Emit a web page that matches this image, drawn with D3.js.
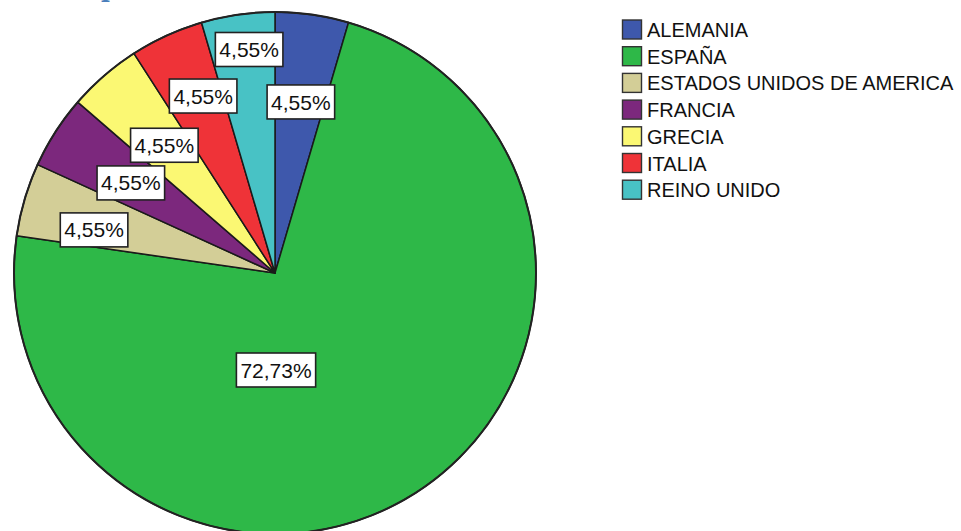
<!DOCTYPE html>
<html>
<head>
<meta charset="utf-8">
<script src="https://cdn.jsdelivr.net/npm/d3@7"></script>
<style>
  html, body { margin: 0; padding: 0; background: #fff; overflow: hidden; }
  svg { display: block; }
</style>
</head>
<body>
<svg id="chart" width="961" height="531"></svg>
<script>
"use strict";

// datos (frecuencias, total 22)
var categories = ["ALEMANIA", "ESPAÑA", "ESTADOS UNIDOS DE AMERICA", "FRANCIA", "GRECIA", "ITALIA", "REINO UNIDO"];
var counts = [1, 16, 1, 1, 1, 1, 1];
var colors = ["#3e58ac", "#2eb848", "#d3ce97", "#7c287d", "#fbf873", "#ef3338", "#48c2c5"];

// posicion de las etiquetas (angulo en grados desde las 12, radio en px)
var labelAngle = [8.6, 179.4, 283.4, 302, 319.1, 337.9, 353.4];
var labelRadius = [173, 97, 186, 170, 169, 191, 225];

var svg = d3.select("#chart");
var cx = 275, cy = 273, radius = 261;

// trozo del titulo cortado arriba
svg.append("text")
    .attr("x", 101)
    .attr("y", -3)
    .attr("font-family", "DejaVu Serif")
    .attr("font-weight", "bold")
    .attr("font-size", 24)
    .attr("fill", "#4a7ebb")
    .text("p");

var total = d3.sum(counts);
var pie = d3.pie().sort(null).value(function (d) { return d; });
var arc = d3.arc().innerRadius(0).outerRadius(radius);
var arcs = pie(counts);

var g = svg.append("g").attr("transform", "translate(" + cx + "," + cy + ")");

g.selectAll("path.slice")
    .data(arcs)
    .enter()
    .append("path")
    .attr("class", "slice")
    .attr("d", arc)
    .attr("fill", function (d, i) { return colors[i]; })
    .attr("stroke", "#1a1a1a")
    .attr("stroke-width", 1.5)
    .attr("stroke-linejoin", "round");

// borde exterior
g.append("circle")
    .attr("r", radius)
    .attr("fill", "none")
    .attr("stroke", "#222")
    .attr("stroke-width", 2);

var fmt = d3.format(".2f");

var labels = g.selectAll("g.lbl")
    .data(arcs)
    .enter()
    .append("g")
    .attr("class", "lbl")
    .attr("transform", function (d, i) {
        var a = labelAngle[i] * Math.PI / 180;
        var r = labelRadius[i];
        return "translate(" + (r * Math.sin(a)) + "," + (-r * Math.cos(a)) + ")";
    });

var rects = labels.append("rect")
    .attr("fill", "#fff")
    .attr("stroke", "#222")
    .attr("stroke-width", 1.6);

var texts = labels.append("text")
    .attr("text-anchor", "middle")
    .attr("dy", "0.36em")
    .attr("font-family", "Liberation Sans, Arial, sans-serif")
    .attr("font-size", 21)
    .attr("fill", "#111")
    .text(function (d) { return fmt(d.value / total * 100).replace(".", ",") + "%"; });

texts.each(function (d, i) {
    var w = this.getComputedTextLength() + 8;
    d3.select(rects.nodes()[i])
        .attr("x", -w / 2)
        .attr("y", -17)
        .attr("width", w)
        .attr("height", 34);
});

// leyenda
var legend = svg.append("g").attr("transform", "translate(622,0)");
var rowY = d3.scaleLinear().domain([0, 1]).range([29.5, 56.2]);

var items = legend.selectAll("g.item")
    .data(categories)
    .enter()
    .append("g")
    .attr("class", "item")
    .attr("transform", function (d, i) { return "translate(0," + rowY(i) + ")"; });

items.append("rect")
    .attr("x", 0.5)
    .attr("y", -9.5)
    .attr("width", 19)
    .attr("height", 19)
    .attr("fill", function (d, i) { return colors[i]; })
    .attr("stroke", "#333")
    .attr("stroke-width", 1.4);

items.append("text")
    .attr("x", 25)
    .attr("y", 7.5)
    .attr("font-family", "Liberation Sans, Arial, sans-serif")
    .attr("font-size", 20)
    .attr("fill", "#111")
    .text(function (d) { return d; });
</script>
</body>
</html>
